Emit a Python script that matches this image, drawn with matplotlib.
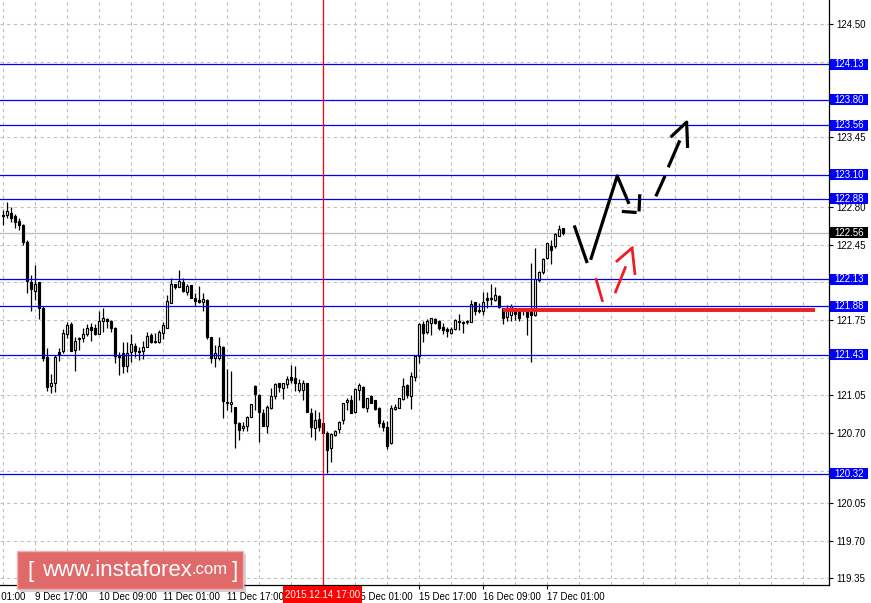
import numpy as np
import matplotlib
matplotlib.use("Agg")
import matplotlib.pyplot as plt
from matplotlib.patches import Rectangle
from matplotlib.transforms import blended_transform_factory

# ---------------------------------------------------------------------------
# H1 candles, 9 Dec 09:00 .. 17 Dec 05:00 (bar index = x)
# ---------------------------------------------------------------------------
opens = [
    122.73, 122.73, 122.75, 122.72, 122.67, 122.63, 122.48, 122.10, 122.02, 122.10,
    121.86, 121.41, 121.14, 121.17, 121.45, 121.46, 121.62, 121.71, 121.47, 121.58,
    121.58, 121.62, 121.69, 121.68, 121.62, 121.74, 121.76, 121.74, 121.68, 121.42,
    121.44, 121.32, 121.45, 121.51, 121.46, 121.46, 121.50, 121.61, 121.55, 121.55,
    121.63, 121.68, 121.91, 122.09, 122.06, 122.10, 122.01, 122.08, 121.96, 121.94,
    121.92, 121.94, 121.59, 121.40, 121.40, 121.50, 120.99, 120.97, 120.94, 120.79,
    120.75, 120.77, 120.85, 121.14, 121.05, 120.89, 120.77, 120.93, 121.04, 121.17,
    121.12, 121.16, 121.22, 121.21, 121.10, 121.10, 121.17, 120.89, 120.75, 120.83,
    120.79, 120.70, 120.56, 120.68, 120.74, 120.82, 120.99, 121.01, 120.90, 121.10,
    121.13, 120.93, 121.04, 121.01, 120.93, 120.79, 120.76, 120.61, 120.92, 120.93,
    121.02, 121.15, 121.04, 121.22, 121.42, 121.71, 121.64, 121.72, 121.76, 121.74,
    121.69, 121.67, 121.63, 121.67, 121.74, 121.73, 121.73, 121.73, 121.92, 121.84,
    121.83, 121.96, 121.96, 121.94, 121.97, 121.86, 121.78, 121.80, 121.86, 121.84,
    121.85, 121.84, 121.83, 121.80, 122.12, 122.20, 122.33, 122.44, 122.44, 122.53,
    122.61,
]
highs = [
    122.77, 122.85, 122.80, 122.74, 122.70, 122.64, 122.49, 122.17, 122.26, 122.10,
    121.88, 121.49, 121.25, 121.43, 121.49, 121.67, 121.73, 121.73, 121.59, 121.59,
    121.68, 121.71, 121.72, 121.71, 121.83, 121.86, 121.77, 121.75, 121.69, 121.45,
    121.55, 121.55, 121.62, 121.54, 121.50, 121.56, 121.64, 121.63, 121.63, 121.66,
    121.73, 121.98, 122.14, 122.09, 122.22, 122.14, 122.09, 122.08, 122.00, 122.07,
    122.00, 121.95, 121.59, 121.52, 121.59, 121.51, 121.30, 121.28, 120.94, 120.80,
    120.80, 120.86, 120.97, 121.15, 121.06, 120.92, 120.96, 121.12, 121.17, 121.17,
    121.17, 121.23, 121.33, 121.32, 121.20, 121.19, 121.17, 120.93, 120.91, 120.90,
    120.79, 120.72, 120.70, 120.73, 120.81, 120.98, 121.03, 121.05, 121.12, 121.17,
    121.14, 121.03, 121.05, 121.01, 120.94, 120.82, 120.81, 120.96, 120.97, 121.03,
    121.21, 121.16, 121.27, 121.43, 121.72, 121.74, 121.76, 121.77, 121.77, 121.75,
    121.72, 121.69, 121.69, 121.76, 121.81, 121.74, 121.75, 121.94, 121.92, 121.91,
    122.01, 122.01, 122.09, 122.06, 121.98, 121.86, 121.89, 121.90, 121.86, 121.86,
    121.86, 121.86, 122.28, 122.42, 122.21, 122.33, 122.47, 122.49, 122.56, 122.63,
    122.61,
]
lows = [
    122.63, 122.70, 122.66, 122.61, 122.59, 122.45, 122.00, 121.83, 121.94, 121.76,
    121.37, 121.09, 121.07, 121.08, 121.37, 121.44, 121.58, 121.46, 121.28, 121.47,
    121.55, 121.60, 121.56, 121.61, 121.62, 121.64, 121.68, 121.64, 121.35, 121.24,
    121.26, 121.27, 121.36, 121.41, 121.38, 121.39, 121.50, 121.54, 121.54, 121.54,
    121.57, 121.68, 121.91, 122.04, 122.06, 122.01, 121.98, 121.96, 121.88, 121.91,
    121.83, 121.57, 121.35, 121.31, 121.38, 120.84, 120.91, 120.90, 120.56, 120.64,
    120.72, 120.72, 120.85, 120.91, 120.62, 120.77, 120.70, 120.92, 121.02, 121.08,
    121.02, 121.12, 121.17, 121.09, 121.08, 121.01, 120.90, 120.66, 120.64, 120.72,
    120.70, 120.33, 120.43, 120.67, 120.70, 120.78, 120.91, 120.89, 120.89, 121.01,
    120.93, 120.90, 120.98, 120.91, 120.76, 120.72, 120.55, 120.60, 120.91, 120.93,
    121.01, 121.03, 120.92, 121.18, 121.35, 121.55, 121.62, 121.61, 121.71, 121.66,
    121.62, 121.59, 121.62, 121.66, 121.66, 121.63, 121.71, 121.73, 121.80, 121.82,
    121.80, 121.86, 121.89, 121.93, 121.86, 121.71, 121.74, 121.74, 121.75, 121.74,
    121.80, 121.61, 121.36, 121.79, 122.10, 122.18, 122.32, 122.27, 122.42, 122.53,
    122.54,
]
closes = [
    122.72, 122.76, 122.70, 122.66, 122.63, 122.48, 122.11, 122.04, 122.09, 121.86,
    121.40, 121.13, 121.17, 121.41, 121.43, 121.63, 121.70, 121.46, 121.56, 121.57,
    121.62, 121.68, 121.66, 121.62, 121.74, 121.77, 121.74, 121.68, 121.42, 121.41,
    121.32, 121.44, 121.53, 121.46, 121.45, 121.50, 121.60, 121.55, 121.56, 121.64,
    121.70, 121.93, 122.09, 122.06, 122.11, 122.02, 122.07, 121.96, 121.93, 121.92,
    121.95, 121.59, 121.40, 121.44, 121.51, 121.00, 120.98, 120.99, 120.79, 120.73,
    120.77, 120.85, 120.97, 121.06, 120.90, 120.77, 120.94, 121.04, 121.16, 121.13,
    121.17, 121.20, 121.19, 121.17, 121.17, 121.17, 120.90, 120.76, 120.82, 120.76,
    120.70, 120.54, 120.69, 120.72, 120.80, 120.98, 121.01, 120.89, 121.11, 121.15,
    120.94, 121.03, 120.98, 120.92, 120.79, 120.76, 120.58, 120.93, 120.94, 121.03,
    121.14, 121.05, 121.23, 121.42, 121.71, 121.63, 121.74, 121.77, 121.72, 121.68,
    121.66, 121.65, 121.67, 121.75, 121.73, 121.72, 121.74, 121.90, 121.83, 121.83,
    121.92, 121.94, 121.95, 121.98, 121.87, 121.77, 121.85, 121.88, 121.81, 121.77,
    121.84, 121.78, 121.80, 122.13, 122.20, 122.32, 122.47, 122.40, 122.55, 122.60,
    122.56,
]

levels = [124.13, 123.80, 123.56, 123.10, 122.88, 122.13, 121.88, 121.43, 120.32]
bid_price = 122.56

ytick_vals = [124.50, 124.15, 123.80, 123.45, 123.10, 122.80, 122.45, 122.10,
              121.75, 121.40, 121.05, 120.70, 120.35, 120.05, 119.70, 119.35]
# labels sitting under a level box
ytick_hidden = [124.15, 123.80, 123.10, 122.10, 121.40, 120.35]
xtick_labels = ["9 Dec 01:00", "9 Dec 17:00", "10 Dec 09:00", "11 Dec 01:00",
                "11 Dec 17:00", "", "15 Dec 01:00", "15 Dec 17:00",
                "16 Dec 09:00", "17 Dec 01:00"]
cursor_bar = 80
cursor_label = "2015.12.14 17:00"

# hand drawn forecast (bar index, price)
black_solid = [
    [(142.9, 122.63), (146.15, 122.28)],
    [(147.0, 122.31), (153.65, 123.09), (156.6, 122.83)],
    [(154.8, 122.76), (158.5, 122.75)],
    [(159.1, 122.76), (159.3, 122.92)],
]
black_dashed = [
    [(163.3, 122.90), (165.6, 123.09)],
    [(166.4, 123.17), (169.3, 123.42)],
    [(167.0, 123.45), (171.0, 123.59), (171.25, 123.35)],
]
red_strokes = [
    [(148.3, 122.14), (150.0, 121.92)],
    [(153.1, 122.00), (155.8, 122.25)],
    [(153.3, 122.29), (157.65, 122.43)],
    [(157.4, 122.41), (158.1, 122.17)],
]
red_level = (125.1, 203.1, 121.84)

# ---------------------------------------------------------------------------
W, H = 871, 603
AX_W, AX_H = 829, 585
FONT = "Liberation Sans"
GRID = "#c0c0c0"
LEVEL_BLUE = "#0000ff"

fig = plt.figure(figsize=(W / 100, H / 100), dpi=100)
ax = fig.add_axes([0, (H - AX_H) / H, AX_W / W, AX_H / H])

ymin, ymax = 119.288, 124.725
xmin, xmax = -0.675, 206.6
px_y = (ymax - ymin) / AX_H          # price per pixel
px_x = (xmax - xmin) / AX_W          # bars per pixel

o = np.array(opens); h = np.array(highs); l = np.array(lows); c = np.array(closes)
x = np.arange(len(o))
up = c >= o

# grid
for gx in range(0, 201, 8):
    ax.axvline(gx, color=GRID, lw=0.8, ls=(0, (3, 3)), zorder=1)
for gy in ytick_vals:
    ax.axhline(gy, color=GRID, lw=0.8, ls=(0, (3, 3)), zorder=1)

# candles
ax.vlines(x, l, h, color="black", lw=0.9, zorder=3)
ax.bar(x[up], c[up] - o[up], bottom=o[up], width=0.5, facecolor="white",
       edgecolor="black", linewidth=0.85, zorder=4)
ax.bar(x[~up], c[~up] - o[~up], bottom=o[~up], width=0.5, facecolor="black",
       edgecolor="black", linewidth=0.85, zorder=4)

# horizontal levels and bid line
ax.axhline(bid_price, color="#c0c0c0", lw=1.0, zorder=2)
for lv in levels:
    ax.axhline(lv, color=LEVEL_BLUE, lw=0.9, zorder=5)

# cursor line
ax.axvline(cursor_bar, color="red", lw=0.9, zorder=5)

# drawings
for seg in black_solid + black_dashed:
    xs, ys = zip(*seg)
    ax.plot(xs, ys, color="black", lw=2.3, solid_capstyle="butt", zorder=6)
for seg in red_strokes:
    xs, ys = zip(*seg)
    ax.plot(xs, ys, color="#ee1c24", lw=2.0, solid_capstyle="butt", zorder=6)
ax.plot([red_level[0], red_level[1]], [red_level[2], red_level[2]],
        color="#ee1c24", lw=2.8, solid_capstyle="butt", zorder=6)

# axes styling
for side in ("top", "left"):
    ax.spines[side].set_visible(False)
for side in ("right", "bottom"):
    ax.spines[side].set_linewidth(0.9)
    ax.spines[side].set_color("black")

ax.yaxis.tick_right()
ax.set_yticks(ytick_vals)
ax.set_yticklabels(["" if v in ytick_hidden else f"{v:.2f}" for v in ytick_vals],
                   fontsize=7, family=FONT)
ax.tick_params(axis="y", length=3, width=0.8, pad=2)

xticks = [-8 + 16 * k for k in range(len(xtick_labels))]
ax.set_xticks(xticks)
ax.set_xticklabels(xtick_labels, fontsize=7, family=FONT, ha="left")
ax.tick_params(axis="x", length=3, width=0.8, pad=2)

# limits last: set_xticks would otherwise widen the view
ax.set_xlim(xmin, xmax)
ax.set_ylim(ymin, ymax)

# first label starts left of the window, only its tail shows
xblend = blended_transform_factory(ax.transData, ax.transAxes)
ax.text(xticks[0] + 0.5, -6.5 / AX_H, xtick_labels[0], transform=xblend, ha="left",
        va="top", fontsize=7, family=FONT, clip_on=False)

# level price boxes on the right axis
yblend = blended_transform_factory(ax.transAxes, ax.transData)
box_x0, box_x1 = 830 / AX_W, 868 / AX_W
for lv in levels:
    ax.add_patch(Rectangle((box_x0, lv - 5.5 * px_y), box_x1 - box_x0, 11 * px_y,
                           transform=yblend, facecolor=LEVEL_BLUE, edgecolor="none",
                           clip_on=False, zorder=10))
    ax.text((box_x0 + box_x1) / 2, lv, f"{lv:.2f}", transform=yblend, ha="center",
            va="center", color="white", fontsize=7, family=FONT, zorder=11, clip_on=False)
ax.add_patch(Rectangle((box_x0, bid_price - 5.5 * px_y), box_x1 - box_x0, 11 * px_y,
                       transform=yblend, facecolor="black", edgecolor="none",
                       clip_on=False, zorder=10))
ax.text((box_x0 + box_x1) / 2, bid_price, f"{bid_price:.2f}", transform=yblend,
        ha="center", va="center", color="white", fontsize=7, family=FONT,
        zorder=11, clip_on=False)

# cursor time box
half_w = 39.5 * px_x
ax.add_patch(Rectangle((cursor_bar - half_w, -18 / AX_H), 2 * half_w, 17 / AX_H,
                       transform=xblend, facecolor="red", edgecolor="none",
                       clip_on=False, zorder=10))
ax.text(cursor_bar, -9.5 / AX_H, cursor_label, transform=xblend, ha="center",
        va="center", color="white", fontsize=7, family=FONT, zorder=11, clip_on=False)

# watermark
fig.patches.append(Rectangle((20 / W, (H - 592) / H), 226 / W, 38 / H,
                             transform=fig.transFigure, facecolor="#808080",
                             alpha=0.35, edgecolor="none", zorder=20))
fig.patches.append(Rectangle((17 / W, (H - 589) / H), 226 / W, 38 / H,
                             transform=fig.transFigure, facecolor="#e06a6a",
                             edgecolor="#f2b0b0", linewidth=1.0, zorder=21))
wm_y = (H - 571) / H
fig.text(27 / W, wm_y, "[", color="white", fontsize=16, family=FONT,
         va="center", ha="left", zorder=22)
www = fig.text(42 / W, wm_y, "www.instaforex", color="white", fontsize=16,
               family=FONT, va="center", ha="left", zorder=22)
renderer = fig.canvas.get_renderer()
www_end = www.get_window_extent(renderer).x1
com = fig.text(www_end / W, (H - 569) / H, ".com", color="white", fontsize=12,
               family=FONT, va="center", ha="left", zorder=22)
com_end = com.get_window_extent(renderer).x1
fig.text((com_end + 4) / W, wm_y, "]", color="white", fontsize=16, family=FONT,
         va="center", ha="left", zorder=22)

fig.savefig("out.png", dpi=100, facecolor="white")
